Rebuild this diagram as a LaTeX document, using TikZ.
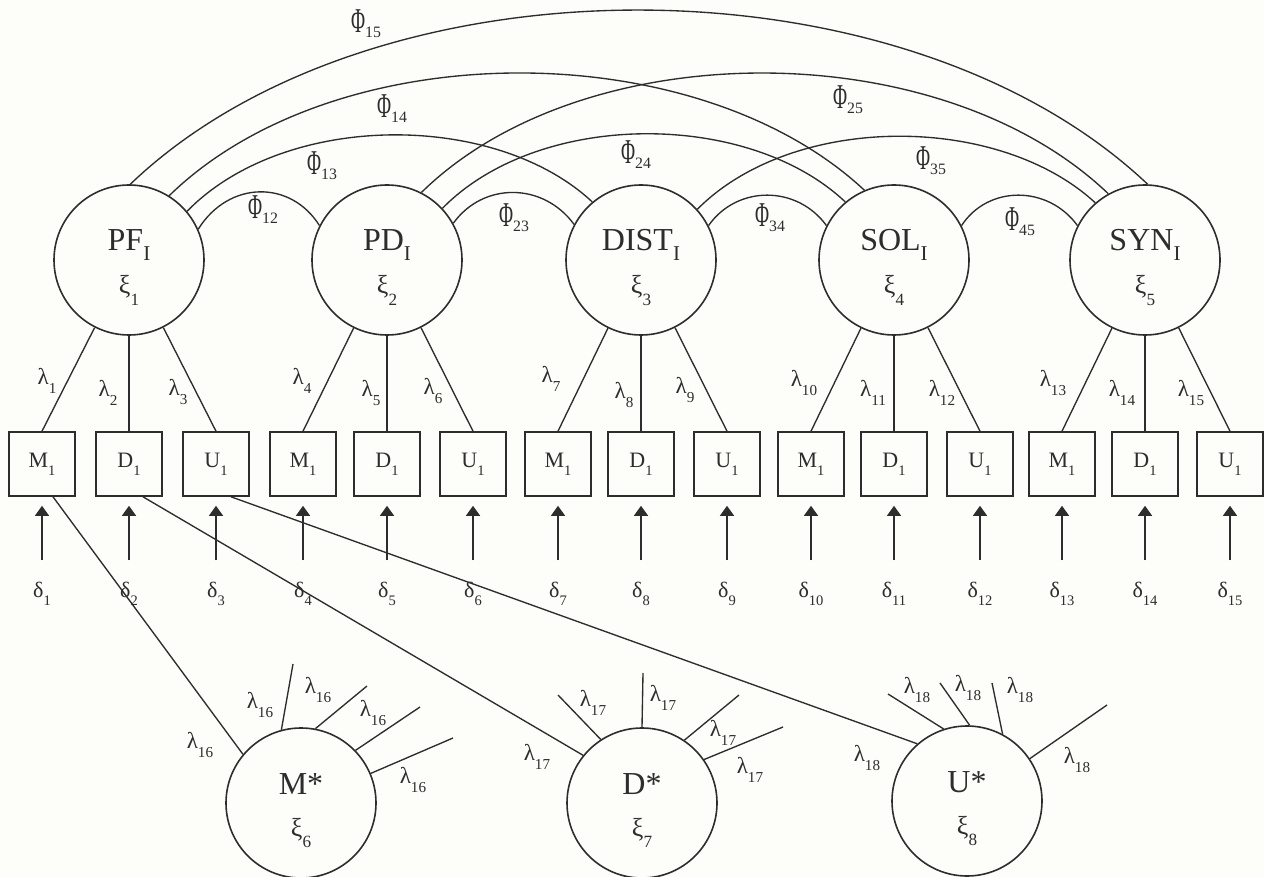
\documentclass[tikz,border=0pt]{standalone}
\usepackage{fontspec}
\setmainfont{Liberation Serif}
\usetikzlibrary{arrows.meta}
\definecolor{ink}{RGB}{45,45,45}
\definecolor{paper}{RGB}{253,253,250}
% lowered, reduced subscript: optional argument is the drop below the baseline
\newcommand{\idx}[2][0.4em]{\raisebox{-#1}{\scalebox{0.66}{#2}}}
% tall narrow capital phi used for the covariance labels
\newcommand{\Phig}{\scalebox{0.8}[1.45]{Φ}}

\begin{document}
\begin{tikzpicture}[x=1pt,y=-1pt,
  latent/.style={circle, draw=ink, line width=1.6pt, minimum size=150pt, inner sep=0pt},
  obsbox/.style={draw=ink, line width=1.6pt, minimum width=66pt, minimum height=64pt,
    inner sep=0pt, text=ink, font=\fontsize{22}{24}\selectfont},
  link/.style={draw=ink, line width=1.35pt},
  errarr/.style={draw=ink, line width=1.2pt, -{Triangle[length=10pt,width=14pt]},
    shorten <=21pt, shorten >=9pt},
  lattext/.style={font=\fontsize{32}{36}\selectfont, text=ink, anchor=base, inner sep=0pt},
  xitext/.style={font=\fontsize{26}{30}\selectfont, text=ink, anchor=base, inner sep=0pt},
  lam/.style={font=\fontsize{23}{26}\selectfont, text=ink, inner sep=0pt},
  del/.style={font=\fontsize{22}{24}\selectfont, text=ink, inner sep=0pt, anchor=base},
  phil/.style={font=\fontsize{24}{26}\selectfont, text=ink, inner sep=0pt},
]
\fill[paper] (0,0) rectangle (1264,877);
\useasboundingbox (0,0) rectangle (1264,877);

% first-order factors
\foreach \n/\cx/\lab in {1/129/PF, 2/387/PD, 3/641/DIST, 4/894/SOL, 5/1145/SYN} {
  \node[latent] (f\n) at (\cx,260) {};
  \node[lattext] (f\n-t) at (\cx,251) {\lab\idx[0.3em]{I}};
  \node[xitext] (f\n-x) at (\cx,294) {ξ\idx[0.45em]{\n}};
}

% method factors
\node[latent] (g6) at (301,803) {};
\node[lattext] (g6-t) at (301,794) {M*};
\node[xitext] (g6-x) at (301,836) {ξ\idx[0.45em]{6}};
\node[latent] (g7) at (642,803) {};
\node[lattext] (g7-t) at (642,794) {D*};
\node[xitext] (g7-x) at (642,836) {ξ\idx[0.45em]{7}};
\node[latent] (g8) at (967,801) {};
\node[lattext] (g8-t) at (967,792) {U*};
\node[xitext] (g8-x) at (967,834) {ξ\idx[0.45em]{8}};

% indicators with their error terms
\foreach \i/\x/\tx in {1/42/M, 2/129/D, 3/216/U, 4/303/M, 5/387/D, 6/473/U,
    7/558/M, 8/641/D, 9/727/U, 10/811/M, 11/894/D, 12/980/U,
    13/1062/M, 14/1145/D, 15/1230/U} {
  \node[obsbox] (b\i) at (\x,464) {\tx\idx[0.35em]{1}};
  \node[del] (d\i) at (\x,597) {δ\idx{\i}};
  \draw[errarr] (d\i) -- (b\i);
}

% loadings of the first-order factors
\foreach \g/\ia/\ib/\ic in {1/1/2/3, 2/4/5/6, 3/7/8/9, 4/10/11/12, 5/13/14/15} {
  \draw[link] (f\g) -- (b\ia.north);
  \draw[link] (f\g) -- (b\ib.north);
  \draw[link] (f\g) -- (b\ic.north);
}
\foreach \i/\x/\y in {1/47/381, 2/108/393, 3/178/392, 4/302/381, 5/371/393, 6/433/391,
    7/551/379, 8/624/395, 9/685/390, 10/804/383, 11/873/393, 12/942/393,
    13/1053/383, 14/1122/393, 15/1191/393} {
  \node[lam] (l\i) at (\x,\y) {λ\idx{\i}};
}

% factor covariances
\draw[link] (f1.89) .. controls (373,-48) and (902,-48) .. (f5.88);
\draw[link] (f1.58) .. controls (336,33) and (696,33) .. (f4.113);
\draw[link] (f2.63) .. controls (584,33) and (940,33) .. (f5.119);
\draw[link] (f1.40) .. controls (285,111) and (495,111) .. (f3.130);
\draw[link] (f2.43) .. controls (539,110) and (748,110) .. (f4.130);
\draw[link] (f3.42) .. controls (793,113) and (998,113) .. (f5.131);
\draw[link] (f1.24) .. controls (229,180) and (291,180) .. (f2.153);
\draw[link] (f2.29) .. controls (483,182) and (543,182) .. (f3.152);
\draw[link] (f3.27) .. controls (737,185) and (797,185) .. (f4.153);
\draw[link] (f4.27) .. controls (988,185) and (1048,185) .. (f5.153);

\node[phil] (p15) at (366,24) {\Phig\idx[0.2em]{15}};
\node[phil] (p14) at (392,109) {\Phig\idx[0.2em]{14}};
\node[phil] (p25) at (848,100) {\Phig\idx[0.2em]{25}};
\node[phil] (p13) at (322,166) {\Phig\idx[0.2em]{13}};
\node[phil] (p24) at (636,155) {\Phig\idx[0.2em]{24}};
\node[phil] (p35) at (931,161) {\Phig\idx[0.2em]{35}};
\node[phil] (p12) at (263,210) {\Phig\idx[0.2em]{12}};
\node[phil] (p23) at (514,218) {\Phig\idx[0.2em]{23}};
\node[phil] (p34) at (770,218) {\Phig\idx[0.2em]{34}};
\node[phil] (p45) at (1020,222) {\Phig\idx[0.2em]{45}};

% method loadings
\draw[link] ([xshift=11pt]b1.south) -- (g6.140);
\draw[link] ([xshift=14pt]b2.south) -- (g7.141);
\draw[link] ([xshift=15pt]b3.south) -- (g8.131);

\coordinate (m1) at (293,664);
\coordinate (m2) at (367,686);
\coordinate (m3) at (420,707);
\coordinate (m4) at (453,738);
\draw[link] (g6.105) -- (m1);
\draw[link] (g6.79) -- (m2);
\draw[link] (g6.44) -- (m3);
\draw[link] (g6.23) -- (m4);

\coordinate (n1) at (558,695);
\coordinate (n2) at (643,673);
\coordinate (n3) at (739,695);
\coordinate (n4) at (783,727);
\draw[link] (g7.123) -- (n1);
\draw[link] (g7.90) -- (n2);
\draw[link] (g7.56) -- (n3);
\draw[link] (g7.35) -- (n4);

\coordinate (u1) at (888,694);
\coordinate (u2) at (940,683);
\coordinate (u3) at (992,683);
\coordinate (u4) at (1107,705);
\draw[link] (g8.108) -- (u1);
\draw[link] (g8.88) -- (u2);
\draw[link] (g8.62) -- (u3);
\draw[link] (g8.34) -- (u4);

\foreach \j/\x/\y in {1/200/745, 2/260/705, 3/318/690, 4/373/713, 5/413/780} {
  \node[lam] (lm\j) at (\x,\y) {λ\idx{16}};
}
\foreach \j/\x/\y in {1/537/757, 2/593/703, 3/663/698, 4/723/733, 5/750/770} {
  \node[lam] (ld\j) at (\x,\y) {λ\idx{17}};
}
\foreach \j/\x/\y in {1/867/758, 2/917/690, 3/968/688, 4/1020/690, 5/1077/760} {
  \node[lam] (lu\j) at (\x,\y) {λ\idx{18}};
}
\end{tikzpicture}
\end{document}
